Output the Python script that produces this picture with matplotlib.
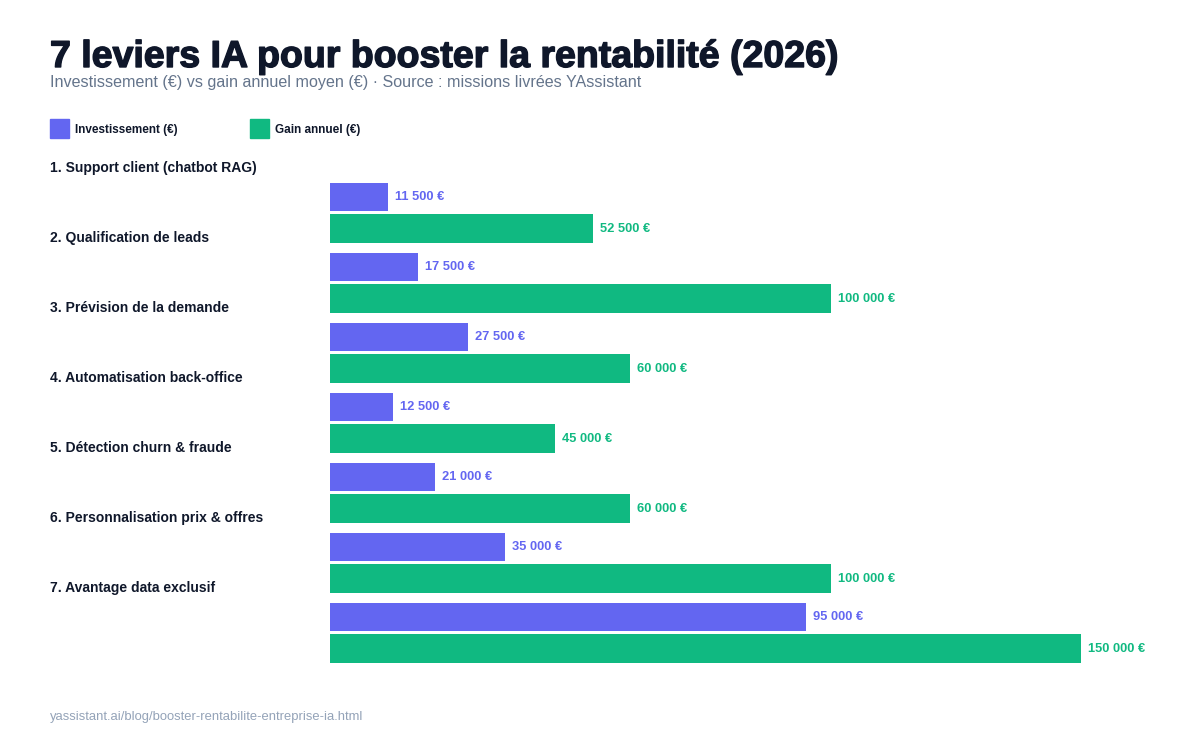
import matplotlib
matplotlib.use("Agg")
import matplotlib.pyplot as plt
from matplotlib.patches import Rectangle
from matplotlib.transforms import blended_transform_factory
import matplotlib.patheffects as pe

leviers = [
    "1. Support client (chatbot RAG)",
    "2. Qualification de leads",
    "3. Prévision de la demande",
    "4. Automatisation back-office",
    "5. Détection churn & fraude",
    "6. Personnalisation prix & offres",
    "7. Avantage data exclusif",
]
investissement = [11500, 17500, 27500, 12500, 21000, 35000, 95000]
gain_annuel = [52500, 100000, 60000, 45000, 60000, 100000, 150000]

C_INV = "#6366F1"
C_GAIN = "#10B981"
C_TXT = "#0F172A"

plt.rcParams["font.family"] = ["Liberation Sans", "DejaVu Sans"]


def fmt(v):
    return f"{v:,.0f} €".replace(",", " ")


fig = plt.figure(figsize=(12, 7.5), dpi=100)
W, H = 1200, 750

# axes: x 330..1081 px pour 0..150000, y en pixels (haut = 150)
ax = fig.add_axes([330 / W, 1 - 690 / H, 751 / W, 540 / H])
ax.set_xlim(0, 150000)
ax.set_ylim(690, 150)
ax.axis("off")
trans_lab = blended_transform_factory(fig.transFigure, ax.transData)

pas = 70
for i, (nom, inv, gain) in enumerate(zip(leviers, investissement, gain_annuel)):
    y0 = 168 + pas * i
    ax.text(50 / W, y0 + 0.5, nom, transform=trans_lab,
            fontsize=10, fontweight="bold", color=C_TXT, va="center", ha="left")
    ax.barh(y0 + 29, inv, height=28, color=C_INV, align="center")
    ax.barh(y0 + 60.5, gain, height=29, color=C_GAIN, align="center")
    ax.text(inv + 1400, y0 + 29.5, fmt(inv), fontsize=9.3, fontweight="bold",
            color=C_INV, va="center", ha="left")
    ax.text(gain + 1400, y0 + 61, fmt(gain), fontsize=9.3, fontweight="bold",
            color=C_GAIN, va="center", ha="left")

fig.text(50 / W, 1 - 57 / H, "7 leviers IA pour booster la rentabilité (2026)",
         fontsize=27, fontweight="bold", color=C_TXT, va="center", ha="left",
         path_effects=[pe.withStroke(linewidth=1.0, foreground=C_TXT)])
fig.text(50 / W, 1 - 83 / H, "Investissement (€) vs gain annuel moyen (€) · Source : missions livrées YAssistant",
         fontsize=11.6, color="#64748B", va="center", ha="left")

# légende
for x, lab, c in [(50, "Investissement (€)", C_INV), (250, "Gain annuel (€)", C_GAIN)]:
    fig.patches.append(Rectangle((x / W, 1 - 138 / H), 19 / W, 19 / H,
                                 transform=fig.transFigure, color=c))
    fig.text((x + 25) / W, 1 - 129.5 / H, lab, fontsize=8.5, fontweight="bold",
             color=C_TXT, va="center", ha="left")

fig.text(50 / W, 1 - 717 / H, "yassistant.ai/blog/booster-rentabilite-entreprise-ia.html",
         fontsize=9.4, color="#94A3B8", va="center", ha="left")

fig.savefig("out.png", dpi=100, facecolor="white")
